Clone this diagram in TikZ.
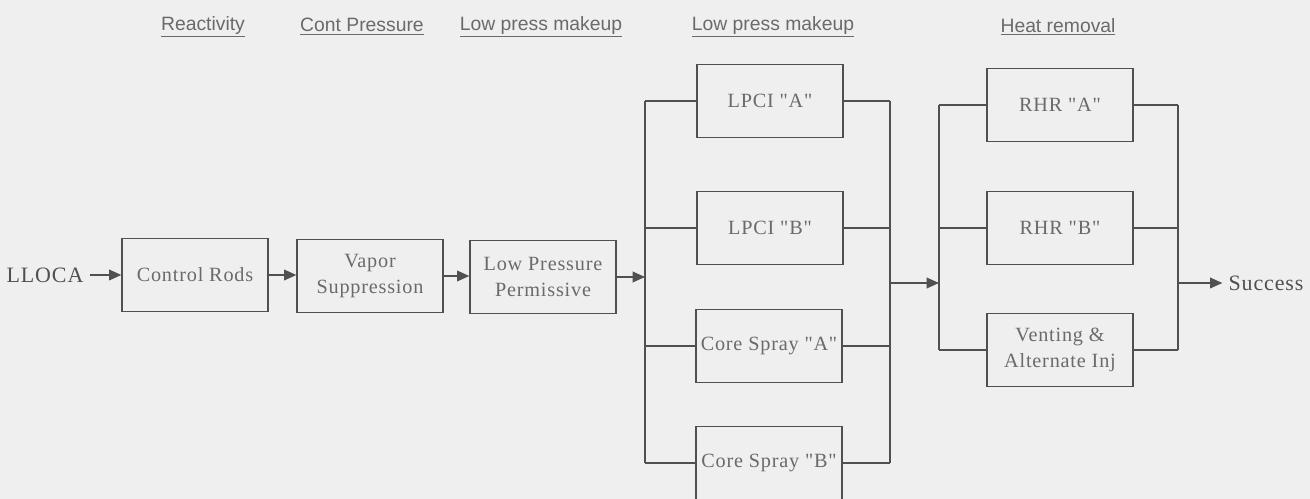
\documentclass[tikz,border=0pt]{standalone}
\usepackage{fontspec}
\setmainfont{Liberation Serif}
\newfontfamily\boxfont[LetterSpace=4]{Liberation Serif}
\newfontfamily\headfont{Liberation Sans}
\usepackage{tikz}
\usetikzlibrary{arrows.meta,positioning}
\definecolor{scanbg}{HTML}{EFEFEF}
\definecolor{inkline}{HTML}{505050}
\definecolor{inktext}{HTML}{6A6A6A}

\begin{document}
\begin{tikzpicture}[x=0.02cm, y=-0.02cm,
  blk/.style={rectangle, draw=inkline, line width=0.7pt, minimum width=2.92cm, minimum height=1.46cm, align=center, inner sep=2pt, text=inktext, font=\boxfont\fontsize{11.5}{15}\selectfont},
  hdr/.style={text=inktext, font=\headfont\fontsize{11}{13}\selectfont},
  endtxt/.style={text=inkline, font=\boxfont\fontsize{12.5}{15}\selectfont},
  wire/.style={draw=inkline, line width=1pt},
  flow/.style={wire, -{Triangle[length=7pt,width=6pt]}}]
\fill[scanbg] (0,0) rectangle (1310,499);
\useasboundingbox (0,0) rectangle (1310,499);
% column headers
\node[hdr] (hreact) at (203,27) {\underline{Reactivity}};
\node[hdr] (hcont) at (362,27) {\underline{Cont Pressure}};
\node[hdr] (hlowa) at (541,27) {\underline{Low press makeup}};
\node[hdr] (hlowb) at (773,27) {\underline{Low press makeup}};
\node[hdr] (hheat) at (1058,27) {\underline{Heat removal}};
% main line
\node[endtxt] (lloca) at (45,275) {LLOCA};
\node[blk] (rods) at (195,275) {Control Rods};
\node[blk] (vapor) at (370,276) {Vapor\\Suppression};
\node[blk] (lpp) at (543,277) {Low Pressure\\Permissive};
% low press makeup trains
\node[blk] (lpcia) at (770,101) {LPCI "A"};
\node[blk] (lpcib) at (770,228) {LPCI "B"};
\node[blk] (csa) at (769,346) {Core Spray "A"};
\node[blk] (csb) at (769,463) {Core Spray "B"};
% heat removal trains
\node[blk] (rhra) at (1060,105) {RHR "A"};
\node[blk] (rhrb) at (1060,228) {RHR "B"};
\node[blk] (vent) at (1060,350) {Venting \&\\Alternate Inj};
\node[endtxt] (success) at (1266,283) {Success};
% bus points
\coordinate (busa) at (645,279);
\coordinate (busb) at (890,283);
\coordinate (busc) at (939,283);
\coordinate (busd) at (1178,283);
\draw[flow] (lloca.east) -- (rods.west |- lloca.east);
\draw[flow] (rods.east) -- (vapor.west |- rods.east);
\draw[flow] (vapor.east) -- (lpp.west |- vapor.east);
\draw[flow] (lpp.east) -- (lpp.east -| busa);
\foreach \n in {lpcia,lpcib,csa,csb} {
  \draw[wire] (\n.west) -- (\n.west -| busa);
  \draw[wire] (\n.east) -- (\n.east -| busb);
}
\draw[wire] (lpcia.west -| busa) -- (csb.west -| busa);
\draw[wire] (lpcia.east -| busb) -- (csb.east -| busb);
\draw[flow] (busb) -- (busc);
\foreach \n in {rhra,rhrb,vent} {
  \draw[wire] (\n.west) -- (\n.west -| busc);
  \draw[wire] (\n.east) -- (\n.east -| busd);
}
\draw[wire] (rhra.west -| busc) -- (vent.west -| busc);
\draw[wire] (rhra.east -| busd) -- (vent.east -| busd);
\draw[flow] (busd) -- (success.west);
\end{tikzpicture}
\end{document}
